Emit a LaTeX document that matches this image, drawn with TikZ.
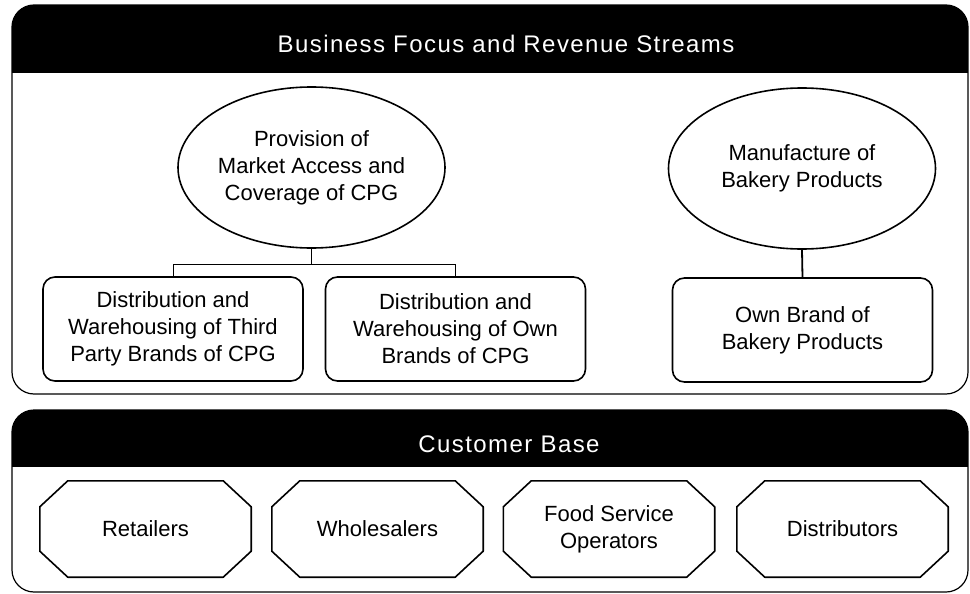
\documentclass[tikz,border=0pt]{standalone}
\usepackage{fontspec}
\setmainfont{Liberation Sans}
\usepackage{tikz}
\usetikzlibrary{shapes.geometric}
\tikzset{
	stream/.style={ellipse,draw,line width=1.6pt,minimum width=267pt,minimum height=161pt,inner sep=0pt,align=center},
	brand/.style={rectangle,draw,rounded corners=12pt,line width=1.6pt,minimum width=260pt,minimum height=104pt,align=center},
	client/.style={rectangle,minimum width=211pt,minimum height=96pt,align=center},
	octline/.style={line width=1.6pt,line join=round},
	headtext/.style={text=white,font=\fontsize{24}{29}\selectfont\addfontfeature{LetterSpace=6},anchor=base}
}

\begin{document}
\begin{tikzpicture}[x=1pt,y=-1pt,font=\fontsize{22}{27}\selectfont]
		\useasboundingbox (0,0) rectangle (970,594);
		% panels
		\begin{scope}
			\clip[rounded corners=22pt] (12,5) rectangle (968,394);
			\fill[black] (12,5) rectangle (968,73);
		\end{scope}
		\draw[line width=1.2pt,rounded corners=22pt] (12,5) rectangle (968,394);
		\begin{scope}
			\clip[rounded corners=22pt] (12,410) rectangle (968,592);
			\fill[black] (12,410) rectangle (968,467);
		\end{scope}
		\draw[line width=1.2pt,rounded corners=22pt] (12,410) rectangle (968,592);
		\node[headtext] (focus) at (506,53) {Business Focus and Revenue Streams};
		\node[headtext] (base) at (509,452) {Customer Base};
		
		\node[stream] (prov) at (311.5,167.5) {Provision of\\Market Access and\\Coverage of CPG};
		\node[stream] (manu) at (802,168.5) {Manufacture of\\Bakery Products};
		\node[brand] (third) at (173,329) {Distribution and\\Warehousing of Third\\Party Brands of CPG};
		\node[brand] (ownb) at (455.5,329) {Distribution and\\Warehousing of Own\\Brands of CPG};
		\node[brand] (bake) at (802.5,330) {Own Brand of\\Bakery Products};
		
		\draw[line width=1pt] (prov.south) -- ++(0,16) coordinate (fork);
		\draw[line width=1pt] (fork) -| (third.north);
		\draw[line width=1pt] (fork) -| (ownb.north);
		\draw[line width=1.8pt] (manu.south) -- (bake.north);
		
		\foreach \n/\x/\t in {ret/145.5/Retailers,whole/377.5/Wholesalers,food/609/{Food Service\\Operators},dist/842.5/Distributors}{
			\node[client] (\n) at (\x,529) {\t};
			\draw[octline] ([xshift=28pt]\n.north west) -- ([xshift=-28pt]\n.north east)
				-- ([yshift=-26pt]\n.north east) -- ([yshift=26pt]\n.south east)
				-- ([xshift=-28pt]\n.south east) -- ([xshift=28pt]\n.south west)
				-- ([yshift=26pt]\n.south west) -- ([yshift=-26pt]\n.north west) -- cycle;
		}
	\end{tikzpicture}
\end{document}
